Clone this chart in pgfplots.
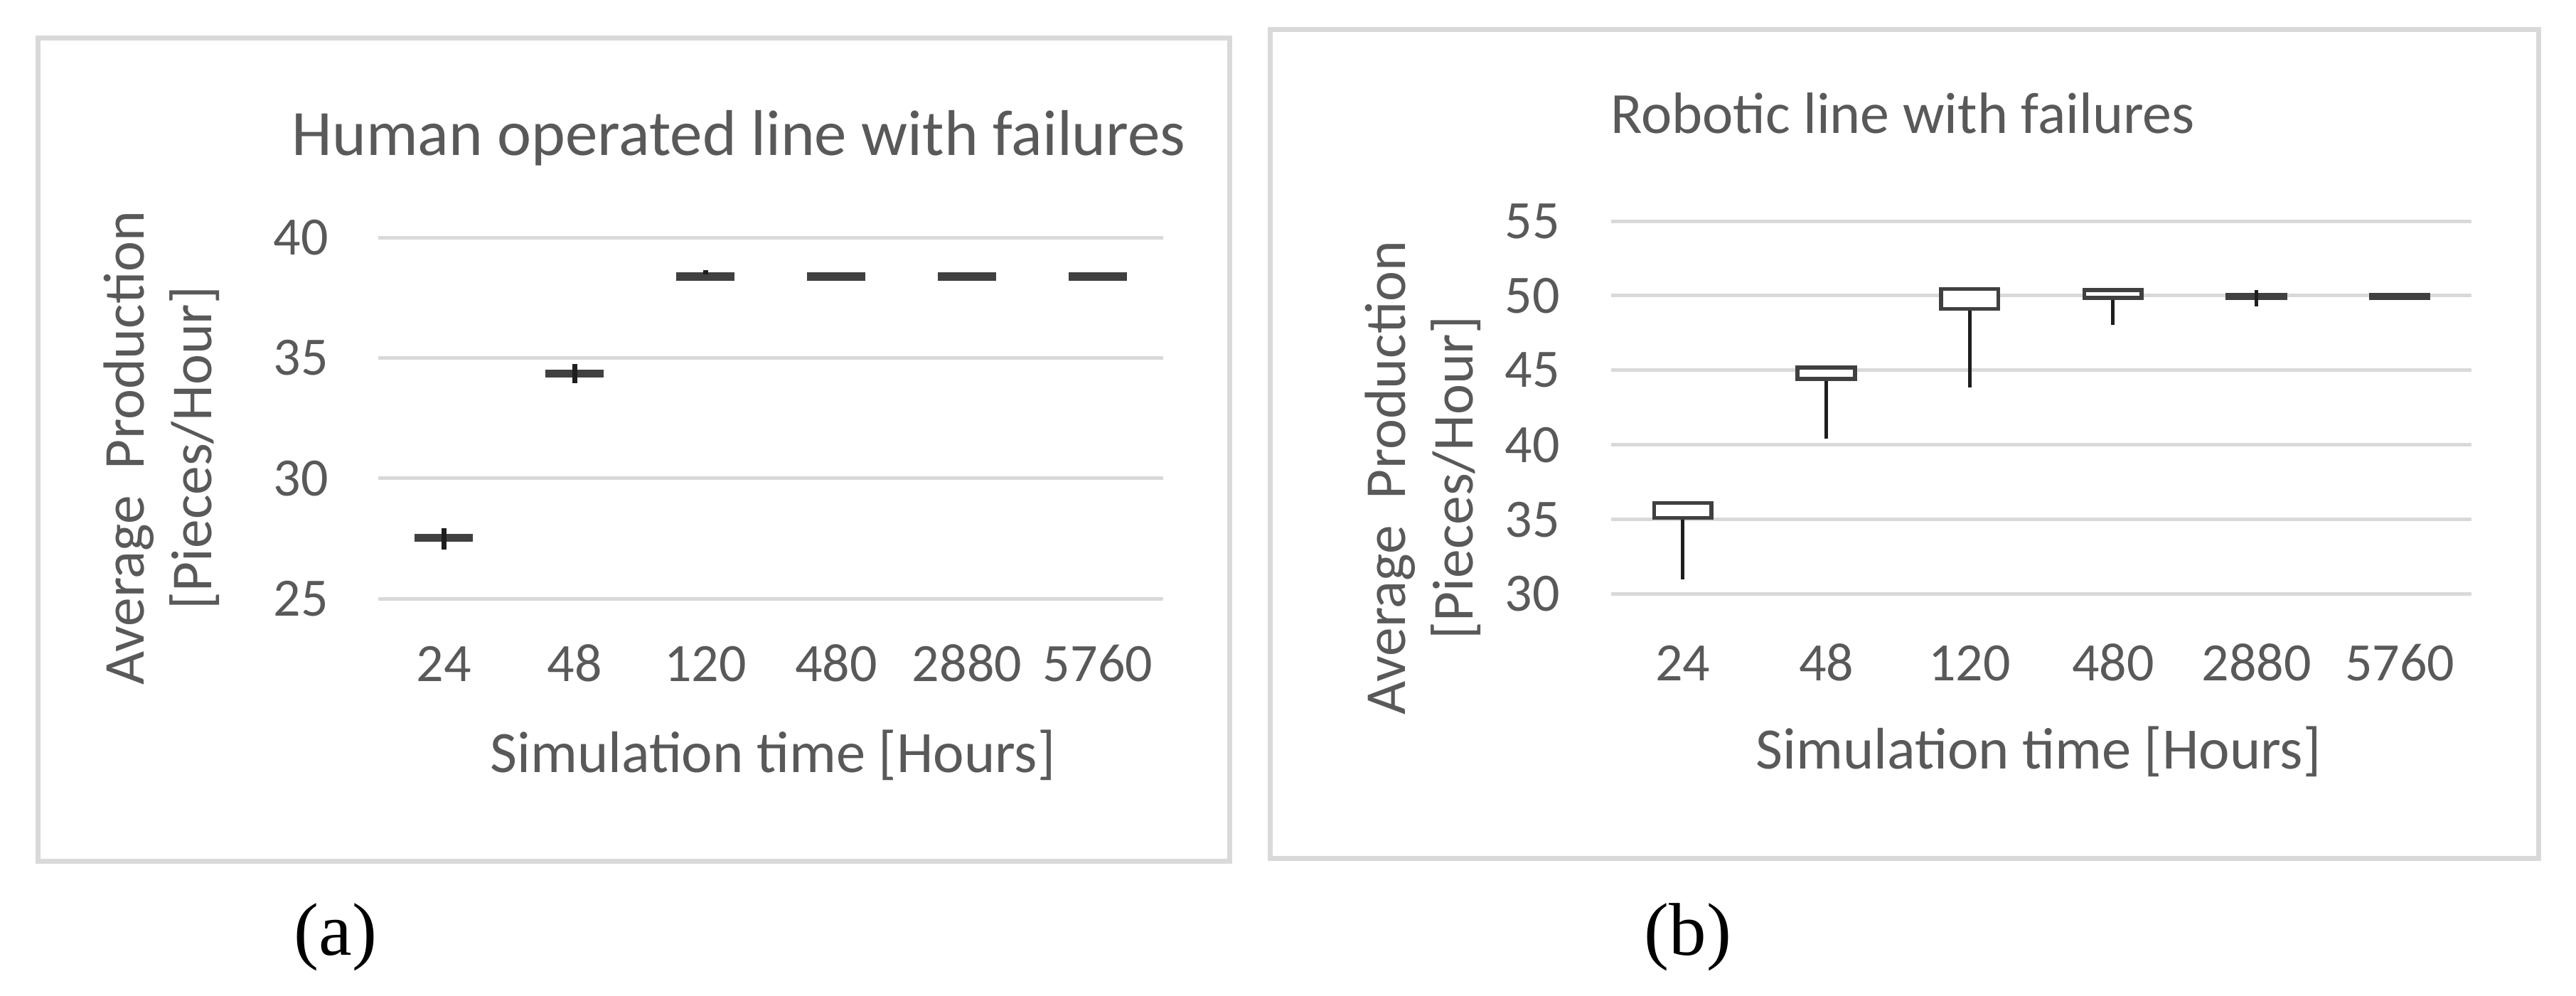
\documentclass[border=0pt]{standalone}
\usepackage{fontspec}
\setmainfont{Carlito}
\newfontfamily\panelfont{Liberation Serif}
\usepackage{pgfplots}
\pgfplotsset{compat=1.18}

\definecolor{TextGray}{HTML}{595959}
\definecolor{GridGray}{HTML}{D9D9D9}
\definecolor{BoxDark}{HTML}{404040}
\definecolor{WhiskerDark}{HTML}{1E1E1E}

\pgfplotsset{
    excelbox/.style={
        axis line style={draw=none},
        major tick length=0pt,
        ymajorgrids=true,
        xmajorgrids=false,
        grid style={GridGray, line width=1pt},
        xmin=-0.5, xmax=5.5,
        xtick={0,...,5},
        xticklabels={24,48,120,480,2880,5760},
        tick label style={font=\fontsize{15.2}{18}\selectfont, text=TextGray},
        /pgf/number format/assume math mode=true,
        scale only axis,
        clip=false,
        anchor=south west
    },
    darkbar/.style={draw=BoxDark, fill=BoxDark, line width=1.1pt},
    whitebox/.style={draw=BoxDark, fill=white, line width=1.1pt},
    whiskerA/.style={draw=WhiskerDark, line width=1.4pt},
    whiskerB/.style={draw=WhiskerDark, line width=1pt}
}

\begin{document}
\begin{tikzpicture}
    \useasboundingbox (0pt,0pt) rectangle (724.6pt,-280.2pt);
    \fill[white] (0pt,0pt) rectangle (724.6pt,-280.2pt);

    % chart frames
    \draw[GridGray, line width=1.4pt] (10.6pt,-10.8pt) rectangle (345.8pt,-242.2pt);
    \draw[GridGray, line width=1.4pt] (357.2pt,-8.4pt) rectangle (714pt,-241.4pt);

    % ---------------- (a) human operated line ----------------
    % quartile boxes (almost collapsed, drawn as dark bars)
    \begin{axis}[
        excelbox,
        at={(106.4pt,-168.4pt)},
        width=220.8pt, height=101.6pt,
        ymin=25, ymax=40,
        ytick={25,30,35,40},
        xticklabel style={anchor=base, inner sep=0pt, yshift=-23.2pt},
        yticklabel style={anchor=east, inner sep=0pt, xshift=-13.8pt}
    ]
    \addplot[darkbar] coordinates {(-0.21,27.44) (0.21,27.44) (0.21,27.62) (-0.21,27.62)} -- cycle;
    \addplot[darkbar] coordinates {(0.79,34.25) (1.21,34.25) (1.21,34.43) (0.79,34.43)} -- cycle;
    \addplot[darkbar] coordinates {(1.79,38.28) (2.21,38.28) (2.21,38.47) (1.79,38.47)} -- cycle;
    \addplot[darkbar] coordinates {(2.79,38.28) (3.21,38.28) (3.21,38.47) (2.79,38.47)} -- cycle;
    \addplot[darkbar] coordinates {(3.79,38.28) (4.21,38.28) (4.21,38.47) (3.79,38.47)} -- cycle;
    \addplot[darkbar] coordinates {(4.79,38.28) (5.21,38.28) (5.21,38.47) (4.79,38.47)} -- cycle;
    % whiskers (min to max)
    \addplot[whiskerA] coordinates {(0,27.03) (0,27.92)};
    \addplot[whiskerA] coordinates {(1,33.95) (1,34.75)};
    \addplot[whiskerA] coordinates {(2,38.47) (2,38.65)};
    \end{axis}

    % ---------------- (b) robotic line ----------------
    \begin{axis}[
        excelbox,
        at={(453.2pt,-167.1pt)},
        width=242pt, height=104.9pt,
        ymin=30, ymax=55,
        ytick={30,35,40,45,50,55},
        xticklabel style={anchor=base, inner sep=0pt, yshift=-24.3pt},
        yticklabel style={anchor=east, inner sep=0pt, xshift=-14.2pt}
    ]
    % lower whiskers (min to lower quartile)
    \addplot[whiskerB] coordinates {(0,31.0) (0,35.1)};
    \addplot[whiskerB] coordinates {(1,40.43) (1,44.43)};
    \addplot[whiskerB] coordinates {(2,43.87) (2,49.11)};
    \addplot[whiskerB] coordinates {(3,48.02) (3,49.85)};
    % quartile boxes
    \addplot[whitebox] coordinates {(-0.2,35.1) (0.2,35.1) (0.2,36.1) (-0.2,36.1)} -- cycle;
    \addplot[whitebox] coordinates {(0.8,44.43) (1.2,44.43) (1.2,45.17) (0.8,45.17)} -- cycle;
    \addplot[whitebox] coordinates {(1.8,49.11) (2.2,49.11) (2.2,50.44) (1.8,50.44)} -- cycle;
    \addplot[whitebox] coordinates {(2.8,49.85) (3.2,49.85) (3.2,50.38) (2.8,50.38)} -- cycle;
    \addplot[darkbar] coordinates {(3.8,49.84) (4.2,49.84) (4.2,50.05) (3.8,50.05)} -- cycle;
    \addplot[darkbar] coordinates {(4.8,49.84) (5.2,49.84) (5.2,50.05) (4.8,50.05)} -- cycle;
    \addplot[whiskerB] coordinates {(4,49.3) (4,50.36)};
    \end{axis}

    % titles and axis labels
    \node[anchor=base, font=\fontsize{18.2}{22}\selectfont, text=TextGray]
        at (207.8pt,-43.8pt) {Human operated line with failures};
    \node[anchor=base, font=\fontsize{16.4}{20}\selectfont, text=TextGray]
        at (535.2pt,-37.6pt) {Robotic line with failures};

    \node[anchor=base, font=\fontsize{16.5}{20}\selectfont, text=TextGray]
        at (217.4pt,-217.2pt) {Simulation time [Hours]};
    \node[anchor=base, font=\fontsize{16.5}{20}\selectfont, text=TextGray]
        at (573.4pt,-216.2pt) {Simulation time [Hours]};

    \node[rotate=90, align=center, font=\fontsize{16.3}{19}\selectfont, text=TextGray]
        at (45.4pt,-126pt) {Average\ \ Production\\{[}Pieces/Hour]};
    \node[rotate=90, align=center, font=\fontsize{16.3}{19}\selectfont, text=TextGray]
        at (400.2pt,-134.4pt) {Average\ \ Production\\{[}Pieces/Hour]};

    % panel letters
    \node[anchor=base, font=\panelfont\fontsize{21}{25}\selectfont]
        at (94.4pt,-268.6pt) {(a)};
    \node[anchor=base, font=\panelfont\fontsize{21}{25}\selectfont]
        at (474.8pt,-268.6pt) {(b)};
\end{tikzpicture}
\end{document}
